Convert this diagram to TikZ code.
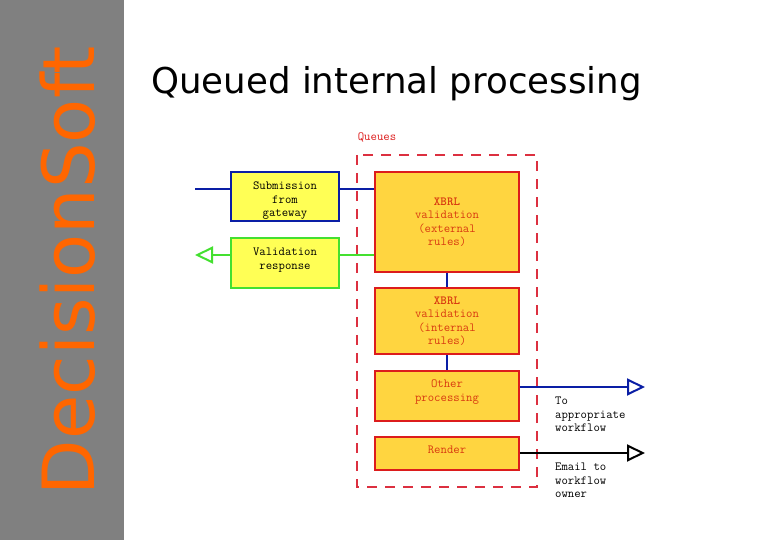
\documentclass[tikz,border=0pt]{standalone}
\usepackage{fontspec}
\newfontfamily\slidefont{DejaVu Sans}
\usetikzlibrary{arrows.meta}
\definecolor{panelgrey}{HTML}{808080}
\definecolor{brandorange}{HTML}{FF6600}
\definecolor{gateyellow}{HTML}{FFFF55}
\definecolor{queueyellow}{HTML}{FFD540}
\definecolor{flowblue}{HTML}{0A1EA5}
\definecolor{flowgreen}{HTML}{44E030}
\definecolor{queuered}{HTML}{DC1C1C}
\definecolor{queuetext}{HTML}{D83A10}
\definecolor{dashred}{HTML}{DC3040}

\begin{document}
\begin{tikzpicture}[x=1pt,y=-1pt,
    boxtext/.style={font=\fontsize{12.4}{13.5}\selectfont\ttfamily,align=center},
    gate/.style={boxtext,draw,line width=2pt,fill=gateyellow,minimum width=108pt,inner sep=0pt},
    queue/.style={boxtext,draw=queuered,text=queuetext,line width=1.6pt,fill=queueyellow,minimum width=144pt,inner sep=0pt},
    link/.style={line width=1.5pt},
    outflow/.style={link,-{Triangle[open,fill=white,length=18pt,width=17pt,line width=2pt]}},
    note/.style={boxtext,align=left,anchor=north west,inner sep=0pt}]
  \useasboundingbox (0,0) rectangle (780,540);
  \fill[panelgrey] (0,0) rectangle (124,540);
  \node[rotate=90,text=brandorange,font=\fontsize{72}{72}\selectfont\slidefont,inner sep=0pt] (brand) at (68,271) {DecisionSoft};
  \node[font=\fontsize{35.6}{38}\selectfont\slidefont,anchor=west,inner sep=0pt] (title) at (151,84) {Queued internal processing};

  % queues
  \draw[dashred,line width=1.6pt,dash pattern=on 10pt off 8pt] (357,155) rectangle (537,487);
  \node[boxtext,text=queuered,inner sep=0pt] (queues) at (377,137.5) {Queues};
  \node[queue,minimum height=100pt] (ext) at (447,222) {\textbf{XBRL}\\validation\\(external\\rules)};
  \node[queue,minimum height=66pt] (int) at (447,321) {\textbf{XBRL}\\validation\\(internal\\rules)};
  \node[queue,minimum height=50pt] (other) at (447,396) {Other\\processing\\[-3pt]\mbox{}};
  \node[queue,minimum height=33pt] (render) at (447,453.5) {Render\\[-6pt]\mbox{}};

  % gateway side
  \node[gate,draw=flowblue,minimum height=49pt] (sub) at (285,197) {Submission\\from\\gateway\\[-18.5pt]\mbox{}};
  \node[gate,draw=flowgreen,minimum height=50pt] (resp) at (285,263) {Validation\\response\\[-5pt]\mbox{}};

  \coordinate (subin) at (195,189);
  \coordinate (respout) at (195,255);
  \coordinate (flowout) at (645,387);
  \coordinate (mailout) at (645,453);
  \draw[link,flowblue] (subin) -- (sub.west |- subin);
  \draw[link,flowblue] (sub.east |- subin) -- (ext.west |- subin);
  \draw[link,flowgreen] (resp.east |- respout) -- (ext.west |- respout);
  \draw[outflow,flowgreen] (resp.west |- respout) -- (respout);
  \foreach \a/\b in {ext/int,int/other} {
    \draw[link,flowblue] (\a) -- (\b);
  }
  \draw[outflow,flowblue] (other.east |- flowout) -- (flowout);
  \draw[outflow,black] (render.east |- mailout) -- (mailout);

  \node[note] (tonote) at (555,397) {To\\appropriate\\workflow};
  \node[note] (mailnote) at (555,463) {Email to\\workflow\\owner};
\end{tikzpicture}
\end{document}
